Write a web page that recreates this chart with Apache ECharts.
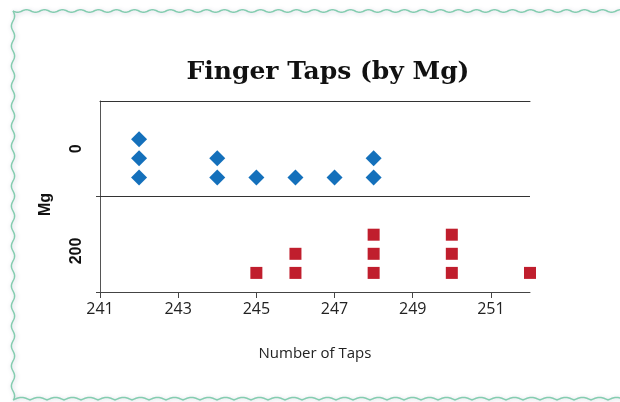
<!DOCTYPE html>
<html>
<head>
<meta charset="utf-8">
<script src="https://cdn.jsdelivr.net/npm/echarts@6/dist/echarts.min.js"></script>
<style>
html,body{margin:0;padding:0;background:#fff;}
#chart{width:620px;height:402px;}
</style>
</head>
<body>
<div id="chart"></div>
<script>
// ---- data ----
var titleText = 'Finger Taps (by Mg)';
var groupLabels = ['0', '200'];
var mg0Taps = [242, 242, 242, 244, 244, 245, 246, 247, 248, 248];
var mg200Taps = [245, 246, 246, 248, 248, 248, 250, 250, 250, 252];
var tapTicks = [241, 243, 245, 247, 249, 251];
var xName = 'Number of Taps';
var yName = 'Mg';

// stack repeated values into dot-plot rows
function stackDots(vals, base) {
  var seen = {};
  return vals.map(function (v) {
    seen[v] = (seen[v] || 0) + 1;
    return [v, base + seen[v]];
  });
}
var mg0Points = stackDots(mg0Taps, 5);
var mg200Points = stackDots(mg200Taps, 0);

// decorative wavy frame
function wave(x0, x1, y, amp, period) {
  var pts = [];
  for (var x = x0; x <= x1; x += 1) pts.push([x, y + amp * Math.sin((x - x0) / period * 2 * Math.PI)]);
  return pts;
}
function waveV(y0, y1, x, amp, period) {
  var pts = [];
  for (var y = y0; y <= y1; y += 1) pts.push([x + amp * Math.sin((y - y0) / period * 2 * Math.PI), y]);
  return pts;
}
function scallop(x0, x1, y, amp, period) {
  var pts = [];
  for (var x = x0; x <= x1; x += 1) pts.push([x, y - amp * Math.abs(Math.sin((x - x0) / period * Math.PI))]);
  return pts;
}
var frameColor = '#85cdb0';
var frameStyle = {stroke: frameColor, lineWidth: 1.5, fill: null, shadowColor: 'rgba(60,70,110,0.25)', shadowBlur: 4, shadowOffsetX: 1, shadowOffsetY: 1};

var chart = echarts.init(document.getElementById('chart'), null, {renderer: 'canvas'});
chart.setOption({
  backgroundColor: '#fff',
  animation: false,
  title: {
    text: titleText,
    left: 323, top: 55, textAlign: 'center',
    textStyle: {fontFamily: 'DejaVu Serif', fontWeight: 'bold', fontSize: 25, color: '#111'}
  },
  graphic: [
    {type: 'polyline', shape: {points: wave(13, 625, 11, 1.3, 18)}, style: frameStyle, silent: true, z: 10},
    {type: 'polyline', shape: {points: waveV(11, 400, 13, 1.6, 20)}, style: frameStyle, silent: true, z: 10},
    {type: 'polyline', shape: {points: scallop(13, 625, 400, 2.5, 17)}, style: frameStyle, silent: true, z: 10}
  ],
  grid: {left: 100, right: 90, top: 101, bottom: 110, containLabel: false},
  xAxis: [{
    type: 'value', min: 241, max: 252, position: 'bottom',
    name: xName, nameLocation: 'middle', nameGap: 54,
    nameTextStyle: {fontFamily: 'Open Sans', fontSize: 15, color: '#222'},
    axisLine: {show: true, lineStyle: {color: '#444', width: 1}},
    axisTick: {show: true, length: 6, customValues: tapTicks, lineStyle: {color: '#444'}},
    axisLabel: {customValues: tapTicks, margin: 9, fontFamily: 'Open Sans', fontSize: 16, color: '#222'},
    splitLine: {show: false}
  }, {
    type: 'value', min: 241, max: 252, position: 'top',
    axisLine: {show: true, onZero: false, lineStyle: {color: '#333', width: 1}},
    axisTick: {show: false}, axisLabel: {show: false}, splitLine: {show: false}
  }],
  yAxis: {
    type: 'value', min: 0, max: 10,
    name: yName, nameLocation: 'middle', nameGap: 46, nameRotate: 90,
    nameTextStyle: {fontFamily: 'Liberation Sans', fontWeight: 'bold', fontSize: 16, color: '#111', padding: [0, 16, 0, 0]},
    axisLine: {show: true, lineStyle: {color: '#555', width: 1}},
    axisTick: {show: true, inside: false, length: 4, customValues: [0, 5], lineStyle: {color: '#444'}},
    axisLabel: {
      customValues: [7.5, 2.15], rotate: 90, margin: 15,
      fontFamily: 'Liberation Sans', fontWeight: 'bold', fontSize: 16, color: '#111',
      formatter: function (v) { return v > 5 ? groupLabels[0] : groupLabels[1]; }
    },
    splitLine: {show: false}
  },
  series: [{
    name: groupLabels[0], type: 'scatter', data: mg0Points,
    symbol: 'diamond', symbolSize: 16,
    itemStyle: {color: '#1470bb', opacity: 1},
    markLine: {
      silent: true, symbol: 'none', label: {show: false},
      lineStyle: {color: '#333', width: 1, type: 'solid'},
      data: [{yAxis: 5}]
    }
  }, {
    name: groupLabels[1], type: 'scatter', data: mg200Points,
    symbol: 'rect', symbolSize: 12,
    itemStyle: {color: '#c01e2d', opacity: 1}
  }]
});
</script>
</body>
</html>
